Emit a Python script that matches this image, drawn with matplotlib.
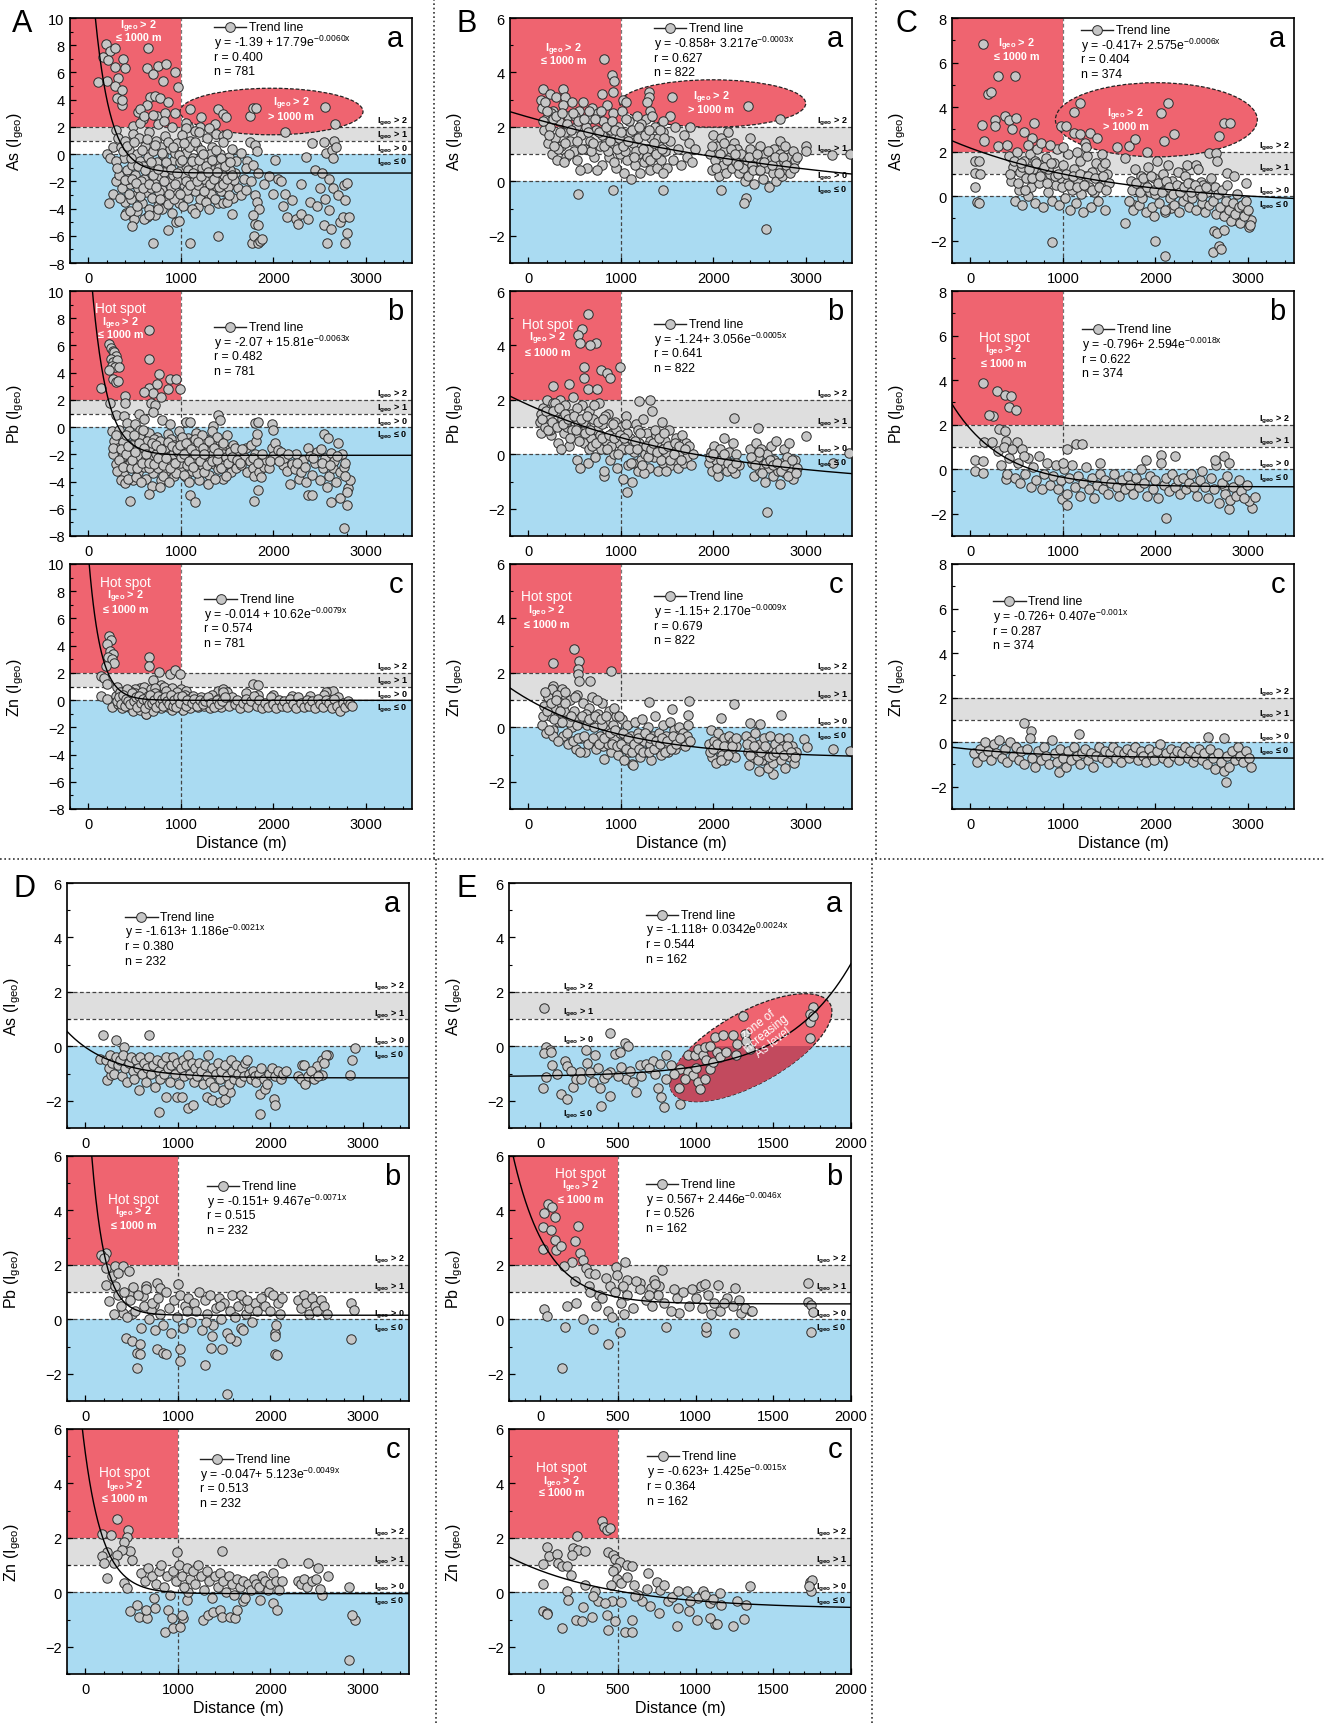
import numpy as np
import matplotlib.pyplot as plt
from matplotlib.patches import Ellipse, Rectangle
from matplotlib.lines import Line2D
from matplotlib.ticker import MultipleLocator
import matplotlib.transforms as mtransforms

plt.rcParams['font.family'] = ['Liberation Sans', 'DejaVu Sans']
plt.rcParams['mathtext.fontset'] = 'custom'
plt.rcParams['mathtext.rm'] = 'Liberation Sans'
plt.rcParams['mathtext.it'] = 'Liberation Sans:italic'
plt.rcParams['mathtext.bf'] = 'Liberation Sans:bold'

# ---------------- points: (distance m, Igeo) ----------------
A_As = [(189,8.1),(232,7.6),(286,7.8),(160,7.1),(214,6.9),(286,6.4),(376,7.0),(394,6.3),(322,5.6),(106,5.3),
        (196,5.4),(286,5.0),(358,4.7),(304,4.1),(358,3.6),(358,4.0),(646,7.8),(628,6.3),(700,5.9),(754,6.5),
        (844,6.6),(934,6.0),(970,4.9),(808,5.4),(664,4.2),(718,4.3),(772,4.1),(862,3.8),(934,3.0),(628,3.6),
        (538,3.1),(592,2.6),(736,2.8),(826,3.0),(484,2.1),(556,3.3),
        (1096,3.3),(1222,2.7),(1402,3.3),(1456,2.95),(1492,2.7),(1366,2.2),(1744,2.8),(1780,3.4),(1816,3.4),
        (2122,1.6),(2554,3.45),(2662,2.2),(1204,2.0),(1078,2.1),
        (560,2.3),(600,2.8),(700,2.9),(750,2.2),(820,2.4),(900,2.0),(1050,2.3),(1150,1.7),(1200,1.6),(1300,1.9),
        (1380,1.5),(1450,1.3),(1500,1.5),(1050,1.9),
        (300,1.8),(260,0.5),(200,0.0),(230,-0.3),(270,-2.9),(220,-3.6),(300,-2.0),
        (320,1.2),(350,0.5),(380,-0.3),(400,1.0),(420,-1.2),(440,0.3),(450,-2.2),(470,-0.8),(480,1.5),(500,-1.5),
        (510,-3.0),(520,0.0),(540,-2.5),(550,1.2),(560,-0.5),(580,-3.6),(600,-1.8),(610,0.6),(620,-2.8),(640,-0.2),
        (650,1.6),(660,-4.0),(670,-1.2),(690,-3.2),(700,0.2),(710,-2.0),(730,1.0),(740,-0.6),(750,-3.8),(770,-1.6),
        (780,0.5),(800,-2.6),(810,-0.1),(830,1.3),(840,-3.4),(850,-1.0),(870,-2.0),(880,0.4),(900,-4.3),(910,-1.5),
        (930,-0.4),(950,-2.8),(960,0.8),(980,-3.6),(1000,-1.2),(1010,1.4),(1030,-2.3),(1050,0.1),(1060,-0.9),(1080,-3.2),
        (1100,1.0),(1110,-1.8),(1130,-0.3),(1150,-2.7),(1170,0.6),(1190,-3.9),(1200,-1.3),(1220,0.3),(1240,-2.2),(1260,-0.6),
        (1280,1.2),(1300,-3.0),(1320,-1.6),(1340,0.5),(1360,-2.4),(1380,-0.8),(1400,-3.6),(1420,0.0),(1440,-1.9),(1460,0.9),
        (1480,-2.8),(1500,-1.0),(1520,-0.2),(1540,-2.2),(1560,-3.2),(1580,-1.4),(1600,-0.5),(1620,-2.5),(1650,-3.0),(1680,-1.8),
        (1700,-2.6),(1720,-0.5),
        (300,-0.5),(330,-1.5),(360,-2.5),(390,-3.5),(410,-4.3),(430,-1.8),(460,-3.3),(490,-4.8),(530,-4.2),(570,-2.0),
        (590,-0.9),(630,-4.6),(680,-2.5),(720,-4.5),(760,-2.8),(790,-4.0),(820,-1.3),(860,-3.7),(890,-2.4),(920,-3.3),
        (940,0.1),(970,-1.9),(990,-0.6),(1020,-3.8),(1040,-1.6),(1070,-2.6),(1090,0.5),(1120,-4.0),(1140,-2.0),(1160,-1.0),
        (1180,-2.3),(1210,-3.3),(1230,-1.0),(1250,-1.8),(1270,-3.5),(1290,-2.6),(1310,0.0),(1330,-2.9),(1350,-1.2),(1370,-3.3),
        (1390,-2.0),(1410,-1.0),(1430,-2.7),(1450,-3.6),(1470,-1.5),(1490,-0.6),(1510,-2.4),(1530,-1.2),(1550,0.4),(1570,-1.9),
        (470,-5.3),(400,-4.5),(450,-4.2),(520,-3.8),(600,-4.8),(650,-4.5),(700,-6.5),(750,-4.0),(860,-5.6),(950,-5.0),
        (980,-4.9),(1100,-6.5),(1150,-4.3),(1400,-6.0),(1300,-4.0),(1500,-3.5),(1550,-4.4),
        (1650,0.1),(1700,-1.0),(1750,0.9),(1780,-0.8),(1800,0.7),(1820,0.2),(1830,-1.4),(1760,-2.0),(1800,-3.0),(1820,-3.5),
        (1850,-4.0),(1780,-4.5),(1800,-5.1),(1830,-5.2),(1770,-6.5),(1790,-6.0),(1830,-6.5),(1860,-6.4),(1880,-6.2),(1900,-2.2),
        (1950,-1.6),(2000,-2.9),(2020,-0.4),(2050,-1.8),(2080,-2.0),(2100,-3.8),(2130,-2.9),(2150,-4.6),(2200,-3.4),(2250,-4.8),
        (2270,-5.1),(2300,-4.4),(2300,-2.2),(2350,-0.2),(2400,-3.5),(2380,-4.8),(2420,0.8),(2450,-1.2),(2470,-3.8),(2500,-2.5),
        (2530,-1.4),(2550,-5.2),(2560,-3.3),(2570,0.1),(2580,-6.5),(2600,-4.1),(2600,-1.8),(2620,-5.5),(2650,-2.5),(2630,0.3),
        (2660,1.0),(2680,0.5),(2700,-3.0),(2720,-5.0),(2750,-4.6),(2760,-2.3),(2780,-3.4),(2800,-2.1),(2800,-5.8),(2780,-6.5),
        (2820,-4.6),(2550,0.9),(2640,-0.3)]
A_As_core = [(310,-1.0),(345,-3.2),(375,0.2),(395,-1.9),(415,0.6),(435,-2.9),(455,-0.3),(475,-1.8),(495,0.9),(515,-2.1),
        (535,-0.9),(555,-3.1),(575,0.3),(595,-2.5),(615,-1.2),(635,1.1),(655,-2.2),(675,-0.6),(695,-1.5),(715,0.7),
        (735,-2.4),(755,-1.1),(775,-3.3),(795,0.1),(815,-2.0),(835,-0.6),(855,0.9),(875,-2.9),(895,-1.1),(915,0.5),
        (935,-2.2),(955,-1.4),(975,-0.1),(995,-2.9),(1015,-0.4),(1035,0.8),(1055,-2.0),(1075,-1.2),(1095,-2.3),(1115,-0.5),
        (1135,-1.4),(1155,0.9),(1175,-2.0),(1195,-0.4),(1215,-1.6),(1235,0.0),(1255,-2.7),(1275,-0.9),(1295,-1.3),(1315,-2.2),
        (1335,-0.4),(1355,-1.8),(1375,0.3),(1395,-1.3),(1415,-2.4),(1435,-0.3),(1455,-2.2),(1475,-0.9),(1495,-1.8),(1515,-3.0),
        (1535,-0.6),(1555,-1.5)]

A_Pb = [(220,6.1),(240,5.8),(260,5.6),(280,5.5),(300,5.2),(240,5.0),(270,4.8),(310,4.9),(250,4.5),(290,4.4),
        (330,4.4),(220,4.2),(260,3.5),(300,3.3),(140,2.9),(320,3.4),(650,7.1),(650,5.0),(760,3.9),(880,3.5),
        (950,3.5),(990,2.8),(860,2.8),(650,2.9),(700,2.5),(780,2.2),(740,3.2),(600,2.6),(680,1.8),(720,1.6),
        (400,2.3),(390,1.8),(230,1.8),(300,0.9),(380,0.8),(550,1.0),(600,0.6),(420,0.3),(500,0.2),(560,-0.2),
        (800,0.5),(880,0.2),(700,1.1),(1050,0.4),(1100,0.4),(1400,0.9),(1420,0.5),(1350,0.1),(1800,0.3),(1830,0.4),
        (1980,0.2),(2000,-0.2),
        (250,-0.3),(280,-1.0),(300,-2.7),(320,-1.5),(340,-0.5),(360,-2.2),(380,-3.5),(400,-1.2),(420,-2.8),(440,-0.3),
        (460,-1.9),(480,-3.9),(500,-1.0),(520,-2.5),(540,-3.3),(560,-0.8),(580,-1.8),(600,-2.9),(620,-3.8),(640,-1.3),
        (660,-0.4),(680,-2.3),(700,-3.4),(720,-1.6),(740,-0.7),(760,-2.6),(780,-3.9),(800,-1.2),(820,-2.0),(840,-3.2),
        (860,-0.5),(880,-1.7),(900,-2.7),(920,-3.6),(940,-1.0),(960,-2.2),(980,-0.3),(1000,-3.0),(1020,-1.5),(1040,-2.5),
        (1060,-3.7),(1080,-0.8),(1100,-2.0),(1120,-3.2),(1140,-1.3),(1160,-0.4),(1180,-2.6),(1200,-3.9),(1220,-1.8),(1240,-2.9),
        (1260,-0.9),(1280,-2.2),(1300,-3.5),(1320,-1.4),(1340,-0.3),(1360,-2.7),(1380,-1.9),(1400,-3.1),(1420,-1.1),(1440,-2.4),
        (1460,-3.8),(1480,-1.6),(1500,-0.6),(1520,-2.1),(1540,-3.3),(1560,-1.3),(1580,-2.5),(1600,-3.0),(1620,-1.9),(1650,-2.8),
        (1680,-2.2),(1700,-1.5),(1720,-3.3),
        (270,-2.0),(310,-3.2),(330,-0.2),(350,-3.9),(370,-1.1),(390,-4.1),(410,-0.6),(430,-3.8),(450,-2.6),(470,-1.3),
        (490,-0.6),(510,-3.7),(530,-1.6),(550,-2.1),(570,-4.0),(590,-0.2),(610,-2.4),(630,-1.0),(650,-3.0),(670,-1.7),
        (690,-4.3),(710,-0.9),(730,-2.0),(750,-3.0),(770,-1.0),(790,-2.3),(810,-3.6),(830,-1.5),(850,-2.5),(870,-4.0),
        (890,-0.9),(910,-2.0),(930,-1.3),(950,-3.4),(970,-1.8),(990,-2.6),(1010,-0.7),(1030,-3.5),(1050,-1.9),(1070,-2.8),
        (1090,-4.0),(1110,-1.1),(1130,-2.3),(1150,-0.9),(1170,-3.4),(1190,-1.5),(1210,-2.3),(1230,-0.6),(1250,-3.3),(1270,-1.6),
        (1290,-4.2),(1310,-2.5),(1330,-1.2),(1350,-2.0),(1370,-3.8),(1390,-0.7),(1410,-2.6),(1430,-1.5),(1450,-2.0),(1470,-2.8),
        (1490,-3.6),
        (450,-5.4),(650,-4.9),(770,-4.4),(1100,-5.0),(1150,-5.5),(1790,-5.4),(1830,-4.6),(2380,-5.0),(2420,-5.0),(2620,-5.5),
        (2720,-5.2),(2760,-7.4),(2800,-5.7),(2810,-4.5),(2830,-3.9),
        (1750,-2.5),(1760,-1.3),(1780,-3.0),(1790,-3.6),(1800,-2.0),(1810,-1.0),(1820,-0.5),(1850,-3.3),(1870,-3.7),(1900,-2.9),
        (1920,-2.4),(1950,-3.0),(1980,-1.5),(2000,-2.1),(2020,-1.2),(2050,-1.7),(2080,-1.8),(2100,-2.8),(2120,-2.3),(2150,-3.2),
        (2180,-4.2),(2200,-2.7),(2230,-3.1),(2250,-2.0),(2280,-3.8),(2300,-3.3),(2320,-2.4),(2350,-4.0),(2380,-1.5),(2400,-2.1),
        (2420,-3.5),(2450,-2.6),(2470,-1.8),(2500,-3.9),(2520,-1.6),(2540,-3.0),(2550,-0.5),(2560,-2.3),(2580,-4.4),(2590,-0.8),
        (2600,-3.6),(2620,-1.9),(2640,-3.0),(2660,-2.5),(2680,-4.0),(2700,-1.2),(2720,-3.3),(2740,-2.0),(2760,-2.9),(2780,-3.6),
        (2800,-4.8)]
A_Pb_core = [(265,-1.5),(295,-0.6),(325,-2.4),(355,-1.6),(375,-2.9),(405,-2.0),(425,-1.4),(455,-3.0),(475,-2.4),(505,-1.8),
        (525,-3.0),(545,-1.2),(575,-2.6),(605,-1.5),(625,-2.0),(655,-2.6),(685,-1.2),(705,-2.7),(735,-1.3),(755,-2.3),
        (785,-1.6),(805,-2.8),(835,-2.3),(855,-1.1),(885,-3.0),(905,-1.4),(935,-2.6),(955,-1.6),(985,-1.3),(1005,-2.2),
        (1035,-2.0),(1055,-1.2),(1085,-2.5),(1105,-1.6),(1135,-2.9),(1155,-2.0),(1185,-1.1),(1205,-2.5),(1235,-1.5),(1255,-2.0),
        (1285,-2.8),(1305,-1.0),(1335,-2.5),(1355,-1.5),(1385,-2.4),(1405,-1.9),(1435,-3.0),(1455,-1.2),(1485,-2.2),(1505,-2.6),
        (1535,-1.8),(1555,-2.2),(1585,-1.5),(1605,-2.4),(1635,-2.6),(1665,-1.6),(1785,-2.3),(1830,-2.6),(1880,-2.0),(1960,-2.5),
        (2060,-2.5),(2160,-2.0),(2260,-2.6),(2340,-2.9),(2430,-2.3),(2530,-2.6),(2610,-2.8),(2690,-2.1),(2770,-2.6)]

A_Zn = [(220,4.7),(240,4.4),(200,4.1),(230,3.6),(260,3.4),(210,3.2),(250,3.0),(280,2.7),(190,2.5),(650,3.2),
        (650,2.5),(130,1.8),(170,1.6),(200,1.2),(310,1.0),(760,2.1),(880,1.9),(940,2.2),(990,1.9),(700,1.5),
        (780,1.1),(820,1.0),(1780,1.2),(1830,1.1),(1830,0.4),(2650,0.7),(2570,0.6),(130,0.3),(200,0.1),(250,-0.5),
        (620,-1.0),(560,0.9),(600,1.0),(500,0.8),(450,0.7),(380,0.5),(680,0.8),(720,0.9),(860,0.6),(900,0.9),
        (1000,0.8),(1050,0.7),(1400,0.7),(1450,0.8),(1500,0.6),(1700,0.5),(2000,0.4),(2200,0.3),(2400,0.3),(2550,0.4),
        (2700,0.2),
        (300,0.3),(320,-0.3),(340,0.6),(360,-0.6),(380,0.1),(400,-0.2),(420,0.8),(440,-0.5),(460,0.2),(480,-0.8),
        (500,0.5),(520,-0.3),(540,0.0),(560,-0.7),(580,0.6),(600,-0.2),(620,-1.0),(640,0.3),(660,-0.5),(680,0.1),
        (700,-0.8),(720,0.5),(740,-0.3),(760,0.0),(780,-0.6),(800,0.4),(820,-0.2),(840,0.7),(860,-0.5),(880,0.1),
        (900,-0.7),(920,0.3),(940,-0.2),(960,0.6),(980,-0.5),(1000,0.0),(1020,-0.7),(1040,0.4),(1060,-0.3),(1080,0.1),
        (1100,-0.6),(1130,0.3),(1160,-0.2),(1190,-0.5),(1220,0.2),(1250,-0.4),(1280,0.0),(1310,-0.6),(1340,0.4),(1370,-0.2),
        (1400,0.1),(1430,-0.5),(1460,0.6),(1490,-0.1),(1520,-0.4),(1550,0.2),(1580,-0.3),(1610,0.0),(1640,-0.6),(1670,-0.2),
        (1700,0.1),(1730,-0.5),(1760,-0.1),(1790,0.3),(1820,-0.4),(1850,0.0),(1880,-0.6),(1910,-0.2),(1940,-0.5),(1970,0.2),
        (2000,-0.3),(2030,-0.6),(2060,0.0),(2090,-0.4),(2120,-0.1),(2150,-0.5),(2180,0.1),(2210,-0.3),(2240,-0.6),(2270,0.2),
        (2300,-0.2),(2330,-0.5),(2360,0.0),(2390,-0.4),(2420,-0.1),(2450,-0.6),(2480,0.1),(2510,-0.3),(2540,-0.5),(2570,0.0),
        (2600,-0.2),(2630,-0.6),(2660,0.1),(2690,-0.4),(2720,-0.8),(2750,-0.2),(2780,-0.5),(2810,-0.1),(2830,-0.3),(2850,-0.4)]
A_Zn_core = [(310,-0.1),(330,0.2),(350,-0.3),(370,0.4),(390,-0.4),(410,0.1),(430,-0.1),(450,-0.3),(470,0.5),(490,-0.1),
        (510,0.2),(530,-0.5),(550,0.3),(570,-0.2),(590,0.1),(610,-0.6),(630,0.0),(650,-0.3),(670,0.4),(690,-0.2),
        (710,0.0),(730,-0.5),(750,0.3),(770,-0.2),(790,0.1),(810,-0.4),(830,0.2),(850,-0.1),(870,-0.3),(890,0.4),
        (910,-0.4),(930,0.0),(950,-0.5),(970,0.2),(990,-0.2),(1010,0.3),(1050,-0.4),(1070,0.0),(1115,-0.2),(1145,0.1),
        (1175,-0.4),(1205,0.0),(1235,-0.3),(1265,-0.1),(1295,0.2),(1325,-0.2),(1355,-0.5),(1385,0.0),(1415,-0.3),(1445,-0.1),
        (1475,0.2)]

B_As = [(820,4.5),(900,3.9),(930,3.7),(910,3.3),(370,3.4),(160,3.4),(230,3.2),(300,3.1),(400,3.1),(140,3.0),
        (800,3.2),(1020,3.0),(1050,2.9),(1300,3.3),(1300,3.1),(1280,2.9),(1320,2.6),(1550,3.1),(2380,2.75),(2720,2.3),
        (1530,2.4),(1450,2.2),(1750,2.0),(540,-0.45),(910,-0.3),(1460,-0.3),(2080,-0.3),(2350,-0.6),(2330,-0.8),(2570,-1.75),
        (3000,1.3),(3000,1.1),(3280,0.95),(3480,1.0),(2400,1.6),(2720,1.5),
        (150,2.7),(170,1.9),(190,2.3),(210,1.4),(230,2.0),(250,1.0),(270,2.6),(290,1.6),(310,0.8),(330,2.2),
        (350,1.3),(370,2.8),(390,1.8),(410,0.9),(430,2.4),(450,1.5),(470,2.9),(490,1.1),(510,2.0),(530,0.8),
        (550,2.6),(570,1.7),(590,2.9),(610,1.2),(630,0.5),(650,2.3),(670,1.5),(690,2.7),(710,0.9),(730,1.9),
        (750,2.5),(770,1.3),(790,0.6),(810,2.2),(830,1.6),(850,2.8),(870,0.9),(890,1.9),(910,2.5),(930,1.3),
        (950,0.5),(970,2.0),(990,1.0),(1010,2.6),(1030,0.3),(1050,1.7),(1070,0.8),(1090,2.2),(1110,0.1),(1130,1.4),
        (1150,0.6),(1170,2.4),(1190,1.0),(1210,0.3),(1230,1.8),(1250,0.7),(1270,2.3),(1290,1.2),(1310,0.4),(1330,1.6),
        (1350,0.9),(1370,2.0),(1390,0.5),(1410,1.3),(1430,0.8),(1450,1.8),(1480,1.1),(1500,0.5),(1530,1.5),(1560,0.8),
        (1590,2.0),(1620,1.2),(1650,0.6),(1680,1.7),(1710,0.9),(1740,1.4),(1770,0.7),(1800,1.2),(1960,1.0),(1980,0.4),
        (2000,1.7),(2020,0.8),(2040,1.3),(2060,0.2),(2080,1.6),(2100,0.6),(2120,1.1),(2140,0.3),(2160,1.8),(2180,0.9),
        (2200,0.5),(2220,1.4),(2240,0.7),(2260,1.2),(2280,0.3),(2300,1.0),(2320,0.5),(2340,0.0),(2360,0.8),(2380,0.2),
        (2400,1.2),(2420,0.6),(2440,-0.1),(2460,0.9),(2480,0.4),(2500,1.3),(2520,0.7),(2540,0.1),(2560,1.0),(2580,0.5),
        (2600,-0.2),(2620,0.8),(2640,0.3),(2660,1.2),(2680,0.0),(2700,0.6),(2720,1.0),(2740,0.2),(2760,0.7),(2780,1.3),
        (2800,0.4),(2820,0.9),(2840,0.6),(2860,1.1),(2880,0.8),(2900,0.9),
        (180,2.9),(240,2.5),(320,1.2),(380,0.7),(440,1.0),(500,2.4),(560,0.4),(620,2.0),(680,1.1),(740,0.4),
        (800,1.7),(860,1.1),(920,0.7),(980,1.6),(1040,1.1),(1100,1.8),(1160,1.1),(1220,2.1),(1280,0.9),(1340,2.4),
        (1400,1.6),(1460,0.3)]
B_As_core = [(160,2.2),(200,2.6),(220,1.7),(260,2.3),(280,1.3),(300,2.4),(340,1.8),(360,2.5),(400,1.4),(420,2.1),
        (460,1.9),(480,2.5),(520,1.5),(540,2.2),(580,1.2),(600,2.3),(640,1.8),(660,2.6),(700,1.4),(720,2.3),
        (760,1.8),(780,2.6),(820,1.3),(840,2.0),(880,1.5),(900,2.2),(940,1.9),(960,1.2),(1000,1.8),(1020,1.3),
        (1060,2.3),(1080,1.5),(1120,1.9),(1140,0.9),(1180,1.6),(1200,2.0),(1240,1.2),(1260,1.7),(1300,1.9),(1320,0.8),
        (1360,1.4),(1380,1.0),(1420,1.9),(1440,1.2),(1470,1.6),(1990,1.3),(2030,0.5),(2070,1.0),(2110,1.4),(2150,0.8),
        (2190,1.2),(2230,1.0),(2270,0.6),(2390,0.9),(2430,0.4),(2470,1.0),(2510,0.4),(2550,0.7),(2590,1.1),(2630,0.6),
        (2670,0.9),(2710,0.3),(2750,0.9),(2790,0.6),(2830,0.3),(2870,0.5)]

B_Pb = [(648,5.16),(575,4.6),(532,4.4),(556,4.1),(727,4.1),(666,4.0),(990,3.2),(605,3.2),(788,3.1),(849,3.0),
        (605,2.8),(880,2.8),(270,2.5),(440,2.6),(648,2.4),(745,2.4),(1200,1.95),(1320,2.0),(2220,1.35),(2484,0.95),
        (3002,0.66),(3290,-0.3),(3470,0.05),(2575,-2.1),(1063,-1.4),(819,-0.8),
        (120,1.2),(140,0.8),(160,1.7),(180,1.0),(200,2.0),(220,1.4),(240,0.7),(260,1.9),(280,1.1),(300,1.6),
        (320,0.4),(340,2.0),(360,1.3),(380,0.8),(400,1.8),(420,1.0),(440,0.3),(460,1.5),(480,2.1),(500,0.7),
        (520,-0.2),(540,1.2),(560,-0.5),(580,1.8),(600,0.4),(620,1.0),(640,-0.3),(660,1.6),(680,0.6),(700,1.3),
        (720,-0.1),(740,0.9),(760,1.9),(780,0.2),(800,1.1),(820,-0.6),(840,0.5),(860,1.5),(880,-0.2),(900,0.8),
        (920,0.0),(940,1.2),(960,-0.5),(980,0.4),(1000,1.0),(1020,-0.9),(1040,0.3),(1060,1.4),(1080,-0.4),(1100,0.6),
        (1120,-1.0),(1140,0.1),(1160,1.1),(1180,-0.6),(1200,0.4),(1220,-0.2),(1240,1.3),(1260,0.0),(1280,0.8),(1300,-0.5),
        (1320,0.5),(1340,1.6),(1360,-0.1),(1380,0.7),(1400,-0.6),(1420,0.3),(1440,1.2),(1460,-0.3),(1480,0.5),(1500,0.0),
        (1520,0.9),(1540,-0.4),(1560,0.3),(1580,-0.2),(1600,0.6),(1620,-0.5),(1640,0.1),(1660,0.7),(1680,-0.3),(1700,0.4),
        (1720,-0.1),(1740,0.3),(1760,-0.4),(1780,0.0),(1950,-0.3),(1970,0.1),(1990,-0.6),(2010,0.3),(2030,-0.2),(2050,-0.8),
        (2070,0.2),(2090,-0.4),(2110,0.6),(2130,-0.1),(2150,-0.6),(2170,0.1),(2190,-0.3),(2210,0.4),(2230,-0.7),(2250,0.0),
        (2280,-0.4),(2400,0.2),(2420,-0.3),(2440,-0.8),(2460,0.4),(2480,-0.1),(2500,-0.6),(2520,0.2),(2540,-0.4),(2560,-1.0),
        (2580,0.0),(2600,-0.5),(2620,0.3),(2640,-0.8),(2660,-0.2),(2680,0.5),(2700,-0.6),(2720,-1.1),(2740,-0.3),(2760,0.2),
        (2780,-0.7),(2800,-0.1),(2820,0.4),(2840,-0.5),(2860,-0.9),(2880,-0.2),(2900,-0.5),
        (130,1.5),(230,0.9),(290,1.9),(350,0.2),(410,1.2),(470,0.9),(530,1.7),(590,1.2),(650,0.2),(710,1.8),
        (770,0.7),(830,1.4),(890,0.3),(950,0.9),(1010,0.2),(1070,0.8),(1130,-0.3),(1190,0.9),(1250,-0.7),(1310,0.1),
        (1370,0.9),(1430,-0.2),(1490,-0.6)]
B_Pb_core = [(150,1.3),(190,1.6),(210,0.9),(250,1.2),(270,1.6),(310,1.0),(330,1.7),(370,1.1),(390,1.5),(430,1.3),
        (450,0.6),(490,1.4),(510,0.9),(550,0.5),(570,1.3),(610,0.8),(630,1.4),(670,0.9),(690,0.3),(730,0.4),
        (750,1.2),(790,0.6),(810,1.3),(850,0.2),(870,0.7),(910,1.1),(930,0.6),(970,0.0),(990,0.7),(1030,0.6),
        (1050,1.1),(1090,0.2),(1110,-0.3),(1150,0.5),(1170,0.2),(1210,0.8),(1230,-0.4),(1270,0.3),(1290,-0.1),(1330,0.2),
        (1350,0.4),(1390,0.1),(1410,0.6),(1450,0.2),(1470,0.8),(1510,0.3),(1530,-0.2),(1570,0.0),(1590,0.4),(1630,0.3),
        (1650,-0.2),(1690,0.2),(1960,-0.1),(2000,0.0),(2040,-0.5),(2080,-0.2),(2120,0.0),(2160,-0.3),(2200,-0.5),(2240,-0.3),
        (2410,-0.1),(2450,-0.4),(2490,0.1),(2530,-0.7),(2570,-0.3),(2610,-0.2),(2650,-0.4),(2690,-0.3),(2730,-0.6),(2770,-0.4),
        (2810,-0.8),(2850,-0.2),(2890,-0.7)]

B_Zn = [(495,2.86),(270,2.37),(544,2.43),(532,2.13),(892,2.07),(532,1.95),(544,1.7),(666,1.7),(270,1.52),(361,1.4),
        (209,1.15),(1734,0.97),(1307,0.93),(2222,0.85),(1551,0.66),(1722,0.44),(2088,0.35),(2728,0.44),(2393,0.17),(2500,0.12),
        (2984,-0.44),(3015,-0.74),(3290,-0.8),(3473,-0.86),(2649,-1.72),(1124,-1.35),(819,-1.17),
        (150,0.1),(170,0.8),(190,-0.2),(210,1.1),(230,0.4),(250,1.4),(270,-0.1),(290,0.7),(310,1.2),(330,0.2),
        (350,0.9),(370,-0.3),(390,1.3),(410,0.5),(430,-0.6),(450,1.0),(470,0.0),(490,0.6),(510,-0.8),(530,1.2),
        (550,0.3),(570,-0.4),(590,0.9),(610,-0.9),(630,0.1),(650,0.7),(670,-0.5),(690,1.1),(710,0.0),(730,-0.8),
        (750,0.5),(770,-0.3),(790,0.9),(810,-0.7),(830,0.2),(850,-0.1),(870,0.6),(890,-0.9),(910,0.1),(930,-0.4),
        (950,0.4),(970,-1.0),(990,-0.2),(1010,0.3),(1030,-1.2),(1050,-0.5),(1070,0.1),(1090,-0.9),(1110,-0.3),(1130,-1.4),
        (1150,0.2),(1170,-0.7),(1190,-0.2),(1210,-1.1),(1230,0.3),(1250,-0.5),(1270,-0.9),(1290,0.0),(1310,-0.6),(1330,-1.2),
        (1350,-0.3),(1370,0.4),(1390,-0.8),(1410,-0.2),(1430,-1.0),(1450,0.1),(1470,-0.6),(1490,-0.3),(1510,-0.9),(1530,0.2),
        (1550,-0.5),(1570,-0.1),(1590,-0.8),(1610,-0.3),(1630,0.0),(1650,-0.6),(1670,-0.2),(1690,-0.7),(1710,-0.3),(1730,0.1),
        (1750,-0.5),(1950,-0.6),(1970,-0.1),(1990,-1.1),(2010,-0.5),(2030,-1.3),(2050,-0.2),(2070,-0.8),(2090,-1.0),(2110,-0.4),
        (2130,-1.2),(2150,-0.7),(2170,-0.3),(2190,-0.9),(2210,-0.5),(2230,-1.1),(2250,-0.7),(2350,-0.3),(2370,-0.9),(2390,-1.4),
        (2410,-0.5),(2430,-1.1),(2450,-0.2),(2470,-0.8),(2490,-1.6),(2510,-0.6),(2530,-1.2),(2550,-0.4),(2570,-1.0),(2590,-1.5),
        (2610,-0.3),(2630,-0.8),(2650,-1.3),(2670,-0.6),(2690,-1.0),(2710,-0.4),(2730,-1.2),(2750,-0.7),(2770,-1.5),(2790,-0.9),
        (2810,-0.4),(2830,-1.1),(2850,-0.7),(2870,-1.3),(2890,-0.9),
        (180,1.3),(260,-0.3),(320,-0.5),(380,0.6),(440,0.2),(500,1.1),(560,-0.9),(620,0.5),(680,0.3),(740,1.0),
        (800,0.1),(860,-0.6),(920,0.7),(980,0.4)]
B_Zn_core = [(160,0.4),(200,0.6),(220,-0.1),(240,0.9),(280,0.3),(300,1.0),(340,0.6),(360,0.2),(400,0.9),(420,-0.2),
        (460,0.4),(480,-0.5),(520,0.1),(540,-0.4),(580,0.4),(600,-0.3),(640,-0.6),(660,0.3),(700,-0.4),(720,0.4),
        (760,-0.6),(780,0.3),(820,-0.4),(840,0.4),(880,-0.2),(900,-0.6),(940,-0.1),(960,-0.7),(1000,-0.6),(1020,-0.2),
        (1060,-0.8),(1080,-0.4),(1120,-0.9),(1140,-0.6),(1180,-0.4),(1200,-0.8),(1240,-0.9),(1260,-0.2),(1300,-0.9),(1320,-0.4),
        (1360,-0.8),(1380,-0.5),(1420,-0.6),(1440,-0.4),(1480,-0.9),(1500,-0.5),(1540,-0.8),(1560,-0.3),(1600,-0.6),(1640,-0.4),
        (1960,-0.9),(2000,-0.8),(2040,-0.6),(2080,-1.2),(2120,-0.7),(2160,-1.0),(2200,-0.7),(2240,-0.4),(2360,-0.6),(2400,-1.0),
        (2440,-0.7),(2480,-1.2),(2520,-0.9),(2560,-0.7),(2600,-1.1),(2640,-1.0),(2680,-0.9),(2720,-0.8),(2760,-1.0),(2800,-0.7),
        (2840,-0.9),(2880,-1.1)]

C_As = [(136,6.83),(295,5.4),(486,5.4),(186,4.6),(222,4.7),(125,3.2),(266,3.4),(378,3.6),(414,3.4),(493,3.5),
        (450,3.0),(266,3.15),(583,2.9),(692,3.3),(143,2.5),(295,2.25),(390,2.3),(666,2.6),(1190,4.2),(1118,3.8),
        (975,3.15),(1029,3.15),(1118,2.85),(1190,2.8),(1298,2.85),(1370,2.6),(1244,2.4),(1580,2.2),(1677,1.7),(1713,2.25),
        (1775,2.55),(1912,2.0),(2056,3.75),(2140,4.2),(2200,2.78),(2092,2.5),(2742,3.3),(2807,3.3),(2688,2.7),(45,1.6),
        (89,1.6),(53,1.05),(107,1.0),(45,0.4),(71,-0.25),(96,-0.3),(883,-2.05),(1670,-1.2),(1995,-2.0),(2103,-2.7),
        (2627,-2.5),(2688,-2.25),(2706,-2.35),(2634,-1.55),(2670,-1.65),(2742,-1.5),(2850,-1.05),(3030,-1.05),(3012,-1.4),(2976,-0.7),
        (2976,0.6),(2778,1.05),(2850,0.9),(2580,1.95),(2652,1.95),(2663,1.6),(2345,1.4),(2435,1.4),(2291,1.05),(2490,0.65),
        (2170,-0.55),(1990,-0.9),(2103,-0.7),(1767,-0.4),
        (420,1.8),(440,0.7),(460,1.3),(480,-0.2),(500,2.0),(520,0.3),(540,1.1),(560,-0.4),(580,1.6),(600,0.8),
        (620,0.0),(640,1.9),(660,0.4),(680,1.2),(700,-0.3),(720,2.1),(740,0.6),(760,1.4),(780,-0.5),(800,0.9),
        (820,1.7),(840,0.2),(860,1.0),(880,-0.2),(900,1.5),(920,0.5),(940,2.1),(960,-0.4),(980,0.8),(1000,1.4),
        (1020,-0.1),(1040,0.6),(1060,1.9),(1080,-0.6),(1100,0.3),(1120,1.2),(1140,-0.3),(1160,0.7),(1180,1.6),(1200,0.1),
        (1220,-0.7),(1240,0.9),(1260,1.8),(1280,0.4),(1300,-0.5),(1320,1.1),(1340,0.2),(1360,1.5),(1380,-0.2),(1400,0.8),
        (1420,1.3),(1440,0.5),(1460,-0.6),(1480,1.0),(1500,0.6),(1720,-0.2),(1740,0.7),(1760,-0.6),(1780,1.2),(1800,0.3),
        (1820,-0.4),(1840,0.9),(1860,-0.1),(1880,0.6),(1900,-0.7),(1920,1.3),(1940,0.2),(1960,-0.5),(1980,0.8),(2000,0.1),
        (2020,1.6),(2040,-0.3),(2060,0.5),(2080,1.0),(2100,-0.6),(2120,0.3),(2140,1.4),(2160,-0.1),(2180,0.7),(2200,-0.4),
        (2220,0.2),(2240,1.1),(2260,-0.7),(2280,0.4),(2300,-0.2),(2320,0.9),(2340,0.0),(2360,-0.5),(2380,0.6),(2400,-0.1),
        (2420,0.3),(2440,-0.6),(2460,1.2),(2480,0.1),(2500,-0.3),(2520,0.5),(2540,-0.7),(2560,0.2),(2580,-0.4),(2600,0.8),
        (2620,-0.2),(2640,0.4),(2660,-0.8),(2680,0.1),(2700,-0.5),(2720,0.3),(2740,-0.9),(2760,-0.2),(2780,0.5),(2800,-0.6),
        (2820,-1.1),(2840,-0.3),(2860,-0.8),(2880,0.1),(2900,-0.5),(2920,-1.2),(2940,-0.4),(2960,-0.9),(2980,-0.2),(3000,-0.6),
        (3020,-1.3),(560,1.3),(620,2.3),(700,1.6),(760,2.4),(840,1.2),(860,2.3),(1000,2.2),(1150,2.0),(1250,2.2),
        (1420,1.9),(1450,1.5)]
C_As_core = [(430,1.0),(470,1.6),(510,0.6),(550,1.5),(590,0.3),(630,1.2),(670,0.8),(710,1.5),(750,0.9),(790,1.3),
        (830,0.6),(870,1.5),(910,0.9),(950,1.0),(990,0.4),(1030,1.0),(1070,0.5),(1110,0.9),(1150,0.4),(1190,1.0),
        (1230,0.5),(1270,0.9),(1310,0.3),(1350,0.8),(1390,0.4),(1430,0.9),(1470,0.3),(1750,0.3),(1790,0.6),(1830,0.2),
        (1870,0.8),(1910,0.4),(1950,0.9),(1990,0.3),(2030,0.6),(2070,0.2),(2110,0.7),(2150,0.4),(2190,0.1),(2230,0.5),
        (2270,0.2),(2310,0.4),(2350,0.6),(2390,0.2),(2430,0.5),(2470,0.3),(2510,0.0),(2550,0.4)]

C_Pb = [(137,3.85),(290,3.5),(369,3.35),(443,3.27),(412,2.8),(491,2.65),(247,2.4),(198,2.45),(308,1.8),(369,1.7),
        (149,1.2),(228,1.2),(381,1.25),(504,1.2),(1042,0.9),(1146,1.15),(1207,1.15),(45,0.43),(137,0.35),(45,-0.1),
        (137,-0.15),(381,-0.43),(994,-1.35),(1042,-1.6),(2113,-2.2),(2064,0.65),(2217,0.6),(2738,0.6),(2738,-0.75),(2799,-1.8),
        (3044,-1.73),(3013,-1.45),(3074,-1.25),
        (300,0.8),(330,0.2),(360,1.0),(390,-0.2),(420,0.5),(450,0.9),(480,-0.4),(510,0.3),(540,-0.6),(560,0.9),
        (590,-0.2),(620,0.5),(650,-0.8),(680,0.1),(710,-0.5),(740,0.6),(770,-0.9),(800,-0.2),(830,0.3),(860,-0.7),
        (890,-0.3),(920,0.2),(950,-0.9),(980,-0.5),(1010,0.0),(1040,-1.1),(1070,-0.4),(1100,0.2),(1130,-0.8),(1160,-0.3),
        (1190,-1.2),(1220,-0.6),(1250,0.1),(1280,-0.9),(1310,-0.4),(1340,-1.3),(1370,-0.7),(1400,-0.2),(1430,-0.9),(1460,-0.5),
        (1490,-1.1),(1520,-0.6),(1550,-0.2),(1580,-0.8),(1610,-1.2),(1640,-0.5),(1670,-0.9),(1700,-0.3),(1730,-0.7),(1760,-1.1),
        (1790,-0.4),(1820,-0.8),(1850,0.0),(1880,-0.6),(1910,-1.2),(1940,-0.3),(1970,-0.9),(2000,-0.5),(2030,-1.3),(2060,0.3),
        (2090,-0.7),(2120,-0.4),(2150,-1.0),(2180,-0.2),(2210,-0.8),(2240,-0.5),(2270,-1.1),(2300,-0.4),(2330,-0.9),(2360,-0.6),
        (2390,-0.2),(2420,-0.8),(2450,-1.2),(2480,-0.5),(2510,-0.1),(2540,-0.8),(2570,-1.3),(2600,-0.4),(2630,-0.9),(2660,0.2),
        (2690,-1.5),(2720,-0.6),(2750,-1.1),(2780,-0.3),(2810,-1.4),(2840,-0.8),(2870,-1.2),(2900,-0.5),(2930,-1.0),(2960,-1.3),
        (2990,-0.7),(1400,0.3),(1900,0.4),(2650,0.4),(2800,0.3),(1000,0.3),(580,0.6)]

C_Zn = [(583,0.85),(657,0.48),(1177,0.36),(2572,0.25),(2768,-1.8),(963,-1.35),(2738,0.2),
        (40,-0.5),(70,-0.9),(100,-0.3),(130,-0.6),(160,0.0),(190,-0.4),(220,-0.8),(250,-0.1),(280,-0.5),(310,0.1),
        (340,-0.7),(370,-0.3),(400,-0.9),(430,0.0),(460,-0.6),(490,-0.2),(520,-0.8),(550,-0.4),(580,-1.0),(610,-0.3),
        (640,0.2),(670,-0.7),(700,-1.1),(730,-0.4),(760,-0.8),(790,-0.2),(820,-0.6),(850,-1.0),(880,0.1),(910,-0.5),
        (940,-0.9),(970,-0.3),(1000,-0.7),(1030,-1.1),(1060,-0.4),(1090,-0.8),(1120,-0.2),(1150,-0.6),(1180,-1.0),(1210,-0.5),
        (1240,-0.3),(1270,-0.8),(1300,-0.5),(1330,-1.1),(1360,-0.6),(1390,-0.2),(1420,-0.7),(1450,-0.4),(1480,-0.9),(1510,-0.5),
        (1540,-0.2),(1570,-0.7),(1600,-0.4),(1630,-0.9),(1660,-0.5),(1690,-0.3),(1720,-0.7),(1750,-0.5),(1780,-0.2),(1810,-0.8),
        (1840,-0.4),(1870,-0.6),(1900,-0.9),(1930,-0.3),(1960,-0.6),(1990,-0.8),(2020,-0.4),(2050,-0.1),(2080,-0.7),(2110,-0.5),
        (2140,-0.9),(2170,-0.3),(2200,-0.6),(2230,-0.4),(2260,-0.8),(2290,-0.5),(2320,-0.2),(2350,-0.7),(2380,-0.4),(2410,-0.9),
        (2440,-0.6),(2470,-0.3),(2500,-0.8),(2530,-0.5),(2560,-1.0),(2590,-0.3),(2620,-0.7),(2650,-1.2),(2680,-0.5),(2710,-0.9),
        (2740,-1.3),(2770,-0.6),(2800,-1.1),(2830,-0.4),(2860,-0.8),(2890,-0.2),(2920,-0.6),(2950,-0.9),(2980,-0.4),(3010,-0.7),
        (3030,-1.1)]

D_As = [(185,0.4),(333,0.22),(689,0.4),(419,-0.03),(2914,-0.06),(2885,-0.5),(2860,-1.04),(160,-0.45),(232,-1.25),(275,-1.04),
        (574,-1.62),(790,-2.4),(871,-1.86),(988,-1.86),(1042,-1.86),(1114,-2.26),(1168,-2.17),(1888,-2.47),(1888,-1.74),(1942,-1.58),
        (2039,-1.92),(2050,-2.17),(1312,-1.86),(1366,-1.98),(1456,-2.04),(1510,-1.92),(1564,-1.68),(2626,-0.33),(2554,-0.5),(2500,-0.74),
        (2338,-0.7),(2446,-1.0),(2374,-1.33),(2554,-1.07),
        (220,-0.5),(250,-0.8),(270,-0.3),(290,-0.6),(310,-1.0),(330,-0.4),(350,-0.7),(370,-0.5),(390,-1.1),(410,-0.3),
        (430,-0.8),(450,-1.3),(470,-0.6),(490,-0.4),(510,-0.9),(530,-1.2),(550,-0.5),(570,-0.8),(590,-0.4),(610,-1.0),
        (630,-0.6),(650,-1.3),(670,-0.8),(690,-0.4),(710,-1.0),(730,-0.7),(750,-1.5),(770,-0.5),(790,-0.9),(810,-1.2),
        (830,-0.6),(850,-1.0),(870,-0.4),(890,-0.8),(910,-1.3),(930,-0.7),(950,-0.4),(970,-1.0),(990,-0.6),(1010,-1.4),
        (1030,-0.8),(1050,-0.5),(1070,-1.1),(1090,-0.7),(1110,-0.3),(1130,-1.0),(1150,-0.6),(1170,-1.3),(1190,-0.8),(1210,-1.1),
        (1230,-0.6),(1250,-0.9),(1270,-1.4),(1290,-0.7),(1310,-1.1),(1330,-0.3),(1350,-1.3),(1370,-0.8),(1390,-1.5),(1410,-1.0),
        (1430,-0.6),(1450,-1.2),(1470,-0.9),(1490,-1.6),(1510,-0.7),(1530,-1.1),(1550,-1.4),(1570,-0.5),(1590,-0.9),(1610,-1.2),
        (1630,-0.7),(1650,-1.0),(1670,-1.3),(1690,-0.8),(1710,-1.1),(1730,-0.6),(1750,-0.5),(1770,-1.0),(1790,-1.2),(1810,-0.9),
        (1830,-1.1),(1850,-1.3),(1880,-1.0),(1900,-0.8),(1930,-1.2),(1960,-1.4),(1990,-1.0),(2020,-0.8),(2050,-1.1),(2080,-0.9),
        (2110,-1.2),(2140,-1.0),(2170,-0.9),(2300,-1.1),(2330,-1.2),(2360,-0.7),(2380,-1.4),(2410,-1.1),(2440,-0.9),(2470,-1.2),
        (2520,-1.1),(2600,-0.3),(2580,-0.6)]

D_Pb = [(226,2.43),(165,2.37),(196,2.25),(226,1.88),(317,1.95),(408,1.95),(287,1.58),(348,1.7),(470,1.76),(226,1.27),
        (317,1.21),(257,0.66),(408,0.24),(500,0.18),(439,-0.68),(500,-0.8),(561,-1.23),(561,-1.78),(592,-0.92),(592,-1.29),
        (774,-1.1),(835,-1.23),(866,-1.29),(1006,1.3),(1018,-1.1),(1018,-1.53),(1292,-1.66),(1353,-1.05),(1475,-1.1),(1536,-2.75),
        (1627,-0.8),(2053,-0.5),(2053,-1.29),(2875,-0.74),(2875,0.6),(2906,0.36),(470,0.94),(652,1.21),(622,0.85),(774,1.33),
        (805,1.15),(744,0.54),(713,0.36),
        (310,0.2),(350,0.9),(380,0.5),(420,1.0),(450,0.1),(480,0.7),(510,1.2),(540,0.3),(570,0.9),(600,-0.3),
        (630,0.5),(660,1.1),(690,0.0),(720,0.6),(750,-0.4),(780,0.8),(810,0.2),(840,-0.2),(870,1.0),(900,0.4),
        (930,-0.5),(960,0.7),(990,0.1),(1020,0.9),(1050,-0.3),(1080,0.5),(1110,0.8),(1140,-0.1),(1170,0.6),(1200,0.3),
        (1230,1.0),(1260,-0.4),(1290,0.7),(1320,0.2),(1350,0.9),(1380,-0.2),(1410,0.4),(1440,0.8),(1470,0.0),(1500,0.6),
        (1530,-0.5),(1560,0.3),(1590,0.9),(1620,0.1),(1650,0.5),(1680,-0.3),(1710,0.7),(1740,0.2),(1770,0.4),(1800,-0.1),
        (1830,0.6),(1860,0.3),(1900,0.8),(1940,0.5),(1980,1.0),(2000,0.3),(2030,0.9),(2060,-0.2),(2080,0.6),(2100,0.2),
        (2130,0.8),(2300,0.7),(2330,0.4),(2360,0.9),(2390,0.6),(2420,0.2),(2450,0.8),(2480,0.5),(2510,0.3),(2550,0.7),
        (2580,0.5),(2610,0.2),(1100,0.3),(1300,-0.1),(1450,0.5),(1680,0.9),(1750,0.7),(1370,-0.6),(1560,-0.7),(2050,-0.6),
        (2070,-1.3),(1700,-0.4)]

D_Zn = [(340,2.7),(459,2.3),(448,2.04),(178,2.16),(275,2.12),(419,1.85),(484,1.51),(394,1.55),(340,1.37),(232,1.49),
        (178,1.33),(196,1.06),(304,1.06),(502,1.18),(232,0.54),(988,1.49),(1474,1.51),(2122,1.06),(2410,1.06),(2518,0.88),
        (2626,0.61),(2853,0.21),(2914,-1.01),(2885,-0.85),(2853,-2.48),(2554,-0.1),(2536,0.12),(412,0.33),(448,0.15),(484,-0.68),
        (556,-0.46),(574,-0.89),(664,-0.95),(657,-0.65),(736,-0.22),(754,-0.59),(862,-1.44),(898,-0.65),(934,-0.95),(945,-1.32),
        (1024,-1.26),(1060,-0.95),(1042,-0.83),(1096,-0.28),(1114,0.02),(1276,-1.01),(1330,-0.83),(1384,-0.71),(1456,-0.65),(1474,-0.89),
        (1564,-0.89),(1618,-0.95),(1636,-0.65),(1708,-0.32),(2032,-0.4),(2068,-0.65),(1888,-0.28),
        (600,0.7),(640,0.4),(680,0.9),(720,0.6),(760,0.3),(790,0.8),(820,1.0),(850,0.2),(880,0.6),(910,-0.1),
        (950,0.8),(980,0.4),(1010,1.0),(1040,0.6),(1070,0.2),(1100,0.9),(1130,0.5),(1160,0.8),(1190,0.3),(1220,1.0),
        (1250,0.6),(1280,0.1),(1310,0.8),(1340,0.4),(1370,-0.2),(1400,0.6),(1430,0.2),(1460,0.7),(1490,0.4),(1520,0.0),
        (1550,0.6),(1580,0.3),(1610,-0.1),(1640,0.5),(1670,0.2),(1700,0.4),(1730,-0.2),(1760,0.3),(1790,0.1),(1820,0.5),
        (1850,0.3),(1880,0.2),(1910,0.6),(1940,0.4),(1970,0.1),(2000,0.3),(2030,0.7),(2060,0.4),(2090,0.1),(2130,0.4),
        (2300,0.4),(2330,0.3),(2360,0.5),(2400,0.2),(2450,0.4),(2490,0.5)]

E_As = [(25,1.42),(448,0.49),(40,-0.03),(62,-0.15),(25,-0.25),(72,-0.2),(40,-1.13),(19,-1.53),(79,-0.7),(109,-1.0),
        (158,-0.55),(173,-0.74),(137,-1.74),(173,-1.92),(212,-1.5),(233,-1.19),(255,-0.94),(294,-0.15),(302,-0.6),(352,-0.3),
        (319,-0.94),(341,-1.31),(384,-1.53),(390,-2.2),(448,-1.84),(409,-1.16),(448,-0.94),(480,-0.27),(512,-0.21),(545,0.13),
        (566,0.03),(523,-0.76),(555,-1.19),(599,-1.31),(620,-1.68),(641,-0.7),(684,-0.64),(727,-0.55),(770,-0.64),(760,-1.52),
        (780,-1.86),(797,-2.23),(813,-1.19),(813,-0.33),(845,-0.7),(892,-1.53),(899,-2.1),(899,-0.82),(952,-0.94),(985,-1.07),
        (1017,-1.31),(1027,-1.55),(952,-0.33),(995,-0.33),(1017,-0.09),(1049,-0.33),(1059,-0.03),(1070,-0.52),(1092,-0.82),(1113,-0.58),
        (1124,0.34),(1135,-0.21),(1156,-0.39),(1178,0.4),(1199,-0.21),(1242,0.4),(1264,0.1),(1260,-0.3),(1306,1.13),(1317,0.46),
        (1324,0.18),(1350,-0.09),(1092,0.0),(1757,1.44),(1736,1.2),(1736,0.89),(1736,0.3),(1757,1.13),
        (200,-0.9),(260,-1.2),(370,-0.8),(430,-1.0),(500,-1.1),(580,-0.9),(650,-1.1),(700,-0.8),(740,-1.0),(860,-1.0),
        (930,-1.2),(1000,-0.8),(1060,-1.2)]

E_Pb = [(53,4.24),(79,4.14),(24,3.92),(97,3.75),(17,3.39),(68,3.29),(241,3.44),(97,2.92),(223,2.89),(17,2.59),
        (104,2.56),(133,2.68),(259,2.43),(277,2.17),(205,2.09),(151,1.97),(296,1.88),(314,1.7),(350,1.68),(487,1.92),
        (549,2.09),(495,1.64),(560,1.46),(784,1.83),(223,1.4),(314,1.21),(422,1.52),(379,0.91),(451,1.21),(531,1.21),
        (640,1.34),(730,1.46),(766,1.21),(712,1.15),(1037,1.21),(1146,1.27),(1254,1.15),(1725,1.34),(24,0.38),(42,0.11),
        (176,0.5),(234,0.6),(277,0.0),(162,-0.29),(343,-0.37),(440,-0.89),(513,-0.47),(144,-1.78),(813,-0.28),(1066,-0.47),
        (1066,-0.28),(1247,-0.52),(1743,-0.47),(1725,0.63),(1743,0.51),(1754,0.26),(1356,0.3),(1291,0.24),(893,0.24),
        (320,1.0),(360,0.5),(400,0.8),(440,0.3),(480,1.0),(520,0.6),(560,0.9),(600,0.4),(640,1.1),(680,0.7),
        (720,0.5),(760,0.9),(800,0.6),(840,0.3),(880,0.8),(920,1.0),(960,0.5),(1000,0.8),(1040,0.4),(1080,0.9),
        (1120,0.6),(1160,0.3),(1200,0.8),(1240,0.5),(1280,0.7),(1320,0.4),(1360,0.3),(460,0.1),(540,0.2),(700,0.9),
        (860,1.1),(1100,0.2),(1180,0.6),(1060,1.3),(620,1.4),(740,1.3),(980,1.1)]

E_Zn = [(397,2.62),(414,2.41),(429,2.29),(450,2.37),(240,2.08),(43,1.68),(58,1.32),(107,1.41),(214,1.62),(246,1.56),
        (289,1.52),(203,1.38),(21,1.04),(118,1.07),(139,0.98),(171,0.95),(199,0.62),(21,0.32),(289,0.28),(171,0.04),
        (178,-0.27),(21,-0.67),(43,-0.75),(43,-0.81),(139,-1.3),(229,-1.02),(268,-1.06),(278,-0.53),(332,-0.91),(429,-0.85),
        (440,-1.4),(482,-1.06),(547,-1.45),(594,-1.03),(590,-1.45),(440,1.47),(472,1.38),(479,1.22),(515,1.13),(487,0.91),
        (472,0.77),(494,0.49),(458,0.28),(522,0.34),(461,-0.33),(522,-0.36),(558,0.55),(558,1.0),(590,0.95),(601,0.26),
        (708,-0.51),(697,0.7),(751,0.39),(772,0.09),(794,0.28),(826,-0.33),(848,-0.16),(890,0.05),(944,0.04),(955,-0.69),
        (1019,-0.2),(1045,0.04),(1062,-0.08),(1094,-0.4),(1115,-0.26),(1158,-0.02),(1163,-0.47),(1126,-1.18),(1244,-1.24),(1309,-0.99),
        (1324,-0.45),(1352,0.22),(1266,-0.33),(1008,-1.02),(1094,-0.96),(1137,-1.18),(880,-1.24),(762,-0.75),(1738,0.38),(1749,0.45),
        (1745,0.06),(1727,0.22),(965,-0.33),(890,-0.58),(654,-0.33),(633,-0.08),(686,0.14),(611,-0.14),(354,0.04),(375,-0.33),
        (343,-0.12),(418,-0.39)]

# ---------------- fitted trend lines: y = a + b*exp(c*x) ----------------
fit_A = [(-1.39, 17.79, -0.0060), (-2.07, 15.81, -0.0063), (-0.014, 10.62, -0.0079)]
fit_B = [(-0.858, 3.217, -0.0003), (-1.24, 3.056, -0.0005), (-1.15, 2.170, -0.0009)]
fit_C = [(-0.417, 2.575, -0.0006), (-0.796, 2.594, -0.0018), (-0.726, 0.407, -0.001)]
fit_D = [(-1.16, 1.124, -0.0021), (0.151, 9.467, -0.0071), (-0.047, 5.123, -0.0049)]
fit_E = [(-1.118, 0.0342, 0.0024), (0.567, 2.446, -0.0046), (-0.623, 1.425, -0.0015)]

eq_A = ['y = -1.39 + 17.79e$^{\\mathrm{-0.0060x}}$', 'y = -2.07 + 15.81e$^{\\mathrm{-0.0063x}}$',
        'y = -0.014 + 10.62e$^{\\mathrm{-0.0079x}}$']
eq_B = ['y = -0.858+ 3.217e$^{\\mathrm{-0.0003x}}$', 'y = -1.24+ 3.056e$^{\\mathrm{-0.0005x}}$',
        'y = -1.15+ 2.170e$^{\\mathrm{-0.0009x}}$']
eq_C = ['y = -0.417+ 2.575e$^{\\mathrm{-0.0006x}}$', 'y = -0.796+ 2.594e$^{\\mathrm{-0.0018x}}$',
        'y = -0.726+ 0.407e$^{\\mathrm{-0.001x}}$']
eq_D = ['y = -1.613+ 1.186e$^{\\mathrm{-0.0021x}}$', 'y = -0.151+ 9.467e$^{\\mathrm{-0.0071x}}$',
        'y = -0.047+ 5.123e$^{\\mathrm{-0.0049x}}$']
eq_E = ['y = -1.118+ 0.0342e$^{\\mathrm{0.0024x}}$', 'y = 0.567+ 2.446e$^{\\mathrm{-0.0046x}}$',
        'y = -0.623+ 1.425e$^{\\mathrm{-0.0015x}}$']

r_A = ['0.400', '0.482', '0.574']
r_B = ['0.627', '0.641', '0.679']
r_C = ['0.404', '0.622', '0.287']
r_D = ['0.380', '0.515', '0.513']
r_E = ['0.544', '0.526', '0.364']
n_samples = {'A': 781, 'B': 822, 'C': 374, 'D': 232, 'E': 162}

elements = ['As', 'Pb', 'Zn']
sub_letters = ['a', 'b', 'c']

# ---------------- styling ----------------
RED = '#ef6470'
RED_DARK = '#c24a5e'
BLUE = '#aadbf2'
GREY = '#dedede'
PT_FACE = '#c6c6c6'
PT_EDGE = '#2b2b2b'

W, H = 1325, 1724
fig = plt.figure(figsize=(W / 100, H / 100), dpi=100)


def add_axes(left, top, w=342, h=245):
    return fig.add_axes([left / W, 1 - (top + h) / H, w / W, h / H])


groups = {
    'A': dict(pts=[A_As + A_As_core, A_Pb + A_Pb_core, A_Zn + A_Zn_core], fit=fit_A, eq=eq_A, r=r_A,
              ylim=(-8, 10), xlim=(-200, 3500), xmaj=1000, xmin=200, edge=1000, cols=70, tops=[19, 292, 565],
              red=[True, True, True], vline=[True, True, True],
              leg=[(0.42, 0.962), (0.42, 0.854), (0.393, 0.857)],
              hot=[(0.2, None, 0.969, 0.921), (0.148, 0.932, 0.871, 0.823), (0.162, 0.925, 0.871, 0.817)],
              ell=((1980, 3.13, 1980, 3.42), (2194, 3.77, 2.8))),
    'B': dict(pts=[B_As + B_As_core, B_Pb + B_Pb_core, B_Zn + B_Zn_core], fit=fit_B, eq=eq_B, r=r_B,
              ylim=(-3, 6), xlim=(-200, 3500), xmaj=1000, xmin=200, edge=1000, cols=510, tops=[19, 292, 565],
              red=[True, True, True], vline=[True, True, True],
              leg=[(0.42, 0.958), (0.42, 0.866), (0.42, 0.868)],
              hot=[(0.156, None, 0.876, 0.829), (0.11, 0.864, 0.807, 0.753), (0.107, 0.868, 0.811, 0.757)],
              ell=((1994, 2.86, 2010, 1.74), (1978, 3.09, 2.66))),
    'C': dict(pts=[C_As + C_As_core, C_Pb, C_Zn], fit=fit_C, eq=eq_C, r=r_C,
              ylim=(-3, 8), xlim=(-200, 3500), xmaj=1000, xmin=200, edge=1000, cols=952, tops=[19, 292, 565],
              red=[True, True, False], vline=[True, True, False],
              leg=[(0.376, 0.951), (0.38, 0.844), (0.12, 0.848)],
              hot=[(0.188, None, 0.894, 0.846), (0.152, 0.814, 0.76, 0.708), None],
              ell=((2011, 3.43, 2184, 3.33), (1677, 3.68, 3.15))),
    'D': dict(pts=[D_As, D_Pb, D_Zn], fit=fit_D, eq=eq_D, r=r_D,
              ylim=(-3, 6), xlim=(-200, 3500), xmaj=1000, xmin=200, edge=1000, cols=67, tops=[884, 1157, 1430],
              red=[False, True, True], vline=[False, True, True],
              leg=[(0.17, 0.863), (0.408, 0.878), (0.39, 0.878)],
              hot=[None, (0.194, 0.824, 0.773, 0.719), (0.168, 0.824, 0.77, 0.718)],
              ell=None),
    'E': dict(pts=[E_As, E_Pb, E_Zn], fit=fit_E, eq=eq_E, r=r_E,
              ylim=(-3, 6), xlim=(-200, 2000), xmaj=500, xmin=100, edge=500, cols=509, tops=[884, 1157, 1430],
              red=[False, True, True], vline=[False, True, True],
              leg=[(0.40, 0.871), (0.40, 0.886), (0.403, 0.888)],
              hot=[None, (0.209, 0.929, 0.878, 0.824), (0.154, 0.845, 0.786, 0.743)],
              ell=None),
}

big_letter_pos = {'A': (22, 24), 'B': (467, 24), 'C': (906, 24), 'D': (24, 889), 'E': (467, 889)}

dash = (0, (3, 2))
igeo = r'I$_{\mathbf{geo}}$'

for g, cfg in groups.items():
    x0, x1 = cfg['xlim']
    y0, y1 = cfg['ylim']
    edge = cfg['edge']
    for k in range(3):
        ax = add_axes(cfg['cols'], cfg['tops'][k])
        # background zones
        ax.add_patch(Rectangle((x0, y0), x1 - x0, -y0, facecolor=BLUE, edgecolor='none', zorder=0))
        ax.add_patch(Rectangle((x0, 1), x1 - x0, 1, facecolor=GREY, edgecolor='none', zorder=0))
        if cfg['red'][k]:
            ax.add_patch(Rectangle((x0, 2), edge - x0, y1 - 2, facecolor=RED, edgecolor='none', zorder=0))
        for yl in (0, 1, 2):
            ax.axhline(yl, color='#444444', lw=0.9, ls=dash, zorder=1)
        if cfg['vline'][k]:
            ax.plot([edge, edge], [y0, 2], color='#444444', lw=0.9, ls=dash, zorder=1)
            ax.plot([edge, edge], [2, y1], color='#777777', lw=0.9, ls=dash, zorder=1)

        # ellipse zones
        if k == 0 and cfg['ell'] is not None:
            (cx, cy, ew, eh), (tx, ty1, ty2) = cfg['ell']
            ax.add_patch(Ellipse((cx, cy), ew, eh, facecolor=RED, edgecolor='#222222', lw=0.9,
                                 ls=(0, (3, 1.5)), zorder=1.5))
            ax.text(tx, ty1, igeo + ' > 2', color='white', fontsize=7.8, fontweight='bold',
                    ha='center', va='center', zorder=6)
            ax.text(tx, ty2, '> 1000 m', color='white', fontsize=7.8, fontweight='bold',
                    ha='center', va='center', zorder=6)
        if g == 'E' and k == 0:
            tr = fig.dpi_scale_trans + mtransforms.ScaledTranslation(1356, -0.05, ax.transData)
            ax.add_patch(Ellipse((0, 0), 1.81, 0.72, angle=29, facecolor=RED, edgecolor='#222222',
                                 lw=0.9, ls=(0, (3, 1.5)), transform=tr, zorder=1.5))
            low = Ellipse((0, 0), 1.81, 0.72, angle=29, facecolor=RED_DARK, edgecolor='none',
                          transform=tr, zorder=1.6)
            ax.add_patch(low)
            clip = Rectangle((x0, y0), x1 - x0, -y0, transform=ax.transData, facecolor='none', edgecolor='none')
            ax.add_patch(clip)
            low.set_clip_path(clip)
            ax.text(1450, 0.5, 'zone of\nincreasing\nAs level', color='white', fontsize=8.5,
                    ha='center', va='center', rotation=38, linespacing=1.0, zorder=6)

        # scatter points
        pts = np.array(cfg['pts'][k])
        ax.scatter(pts[:, 0], pts[:, 1], s=46, facecolor=PT_FACE, edgecolor=PT_EDGE,
                   linewidths=0.7, zorder=3)

        # trend line
        a, b, c = cfg['fit'][k]
        xx = np.linspace(x0, x1, 500)
        ax.plot(xx, a + b * np.exp(c * xx), color='black', lw=1.0, zorder=4)

        # legend-like text block
        lx, ly = cfg['leg'][k]
        ax.plot([lx, lx + 0.095], [ly, ly], color='#222222', lw=1.0, transform=ax.transAxes, zorder=6)
        ax.plot([lx + 0.0475], [ly], 'o', ms=7, mfc=PT_FACE, mec=PT_EDGE, mew=0.7,
                transform=ax.transAxes, zorder=7)
        ax.text(lx + 0.103, ly, 'Trend line', fontsize=8.8, va='center', transform=ax.transAxes, zorder=6)
        ax.text(lx, ly - 0.06, cfg['eq'][k], fontsize=8.8, va='center', transform=ax.transAxes, zorder=6)
        ax.text(lx, ly - 0.12, 'r = ' + cfg['r'][k], fontsize=8.8, va='center', transform=ax.transAxes, zorder=6)
        ax.text(lx, ly - 0.18, 'n = %d' % n_samples[g], fontsize=8.8, va='center',
                transform=ax.transAxes, zorder=6)

        # hot spot label
        hs = cfg['hot'][k]
        if hs is not None:
            hx, ht, h1, h2 = hs
            if ht is not None:
                ax.text(hx, ht, 'Hot spot', color='white', fontsize=9.8, ha='center', va='center',
                        transform=ax.transAxes, zorder=6)
            ax.text(hx, h1, igeo + ' > 2', color='white', fontsize=7.8, fontweight='bold',
                    ha='center', va='center', transform=ax.transAxes, zorder=6)
            ax.text(hx, h2, '≤ 1000 m', color='white', fontsize=7.8, fontweight='bold',
                    ha='center', va='center', transform=ax.transAxes, zorder=6)

        # Igeo class labels
        if g == 'E' and k == 0:
            for txt, yv in [(' > 2', 2.17), (' > 1', 1.28), (' > 0', 0.25), (' ≤ 0', -2.47)]:
                ax.text(0.203, yv, igeo + txt, fontsize=6.5, fontweight='bold', ha='center', va='center',
                        transform=ax.get_yaxis_transform(), zorder=6)
        else:
            for txt, yv, off in [(' > 2', 2, 4), (' > 1', 1, 4), (' > 0', 0, 4), (' ≤ 0', 0, -6)]:
                ax.annotate(igeo + txt, xy=(0.988, yv), xycoords=('axes fraction', 'data'),
                            xytext=(0, off), textcoords='offset points', fontsize=6.5,
                            fontweight='bold', ha='right', va='center', zorder=6)

        # sub-panel letter
        ax.text(0.975, 0.975, sub_letters[k], fontsize=21, ha='right', va='top', transform=ax.transAxes, zorder=6)

        # axes formatting
        ax.set_xlim(x0, x1)
        ax.set_ylim(y0, y1)
        ax.xaxis.set_major_locator(MultipleLocator(cfg['xmaj']))
        ax.xaxis.set_minor_locator(MultipleLocator(cfg['xmin']))
        ax.yaxis.set_major_locator(MultipleLocator(2))
        ax.yaxis.set_minor_locator(MultipleLocator(1))
        ax.set_xticks(np.arange(0, x1 + 1, cfg['xmaj']))
        ax.tick_params(which='both', direction='in', top=False, right=False)
        ax.tick_params(which='major', length=4, width=0.9, labelsize=10.5)
        ax.tick_params(which='minor', length=2.5, width=0.8)
        ax.tick_params(axis='x', pad=6)
        ax.tick_params(axis='y', pad=4)
        for sp in ax.spines.values():
            sp.set_linewidth(1.2)
        ax.set_ylabel(elements[k] + r' (I$_{\mathrm{geo}}$)', fontsize=11.5)
        ax.yaxis.set_label_coords(-0.13, 0.5)
        if k == 2:
            ax.set_xlabel('Distance (m)', fontsize=11.5, labelpad=3)

    bx, by = big_letter_pos[g]
    fig.text(bx / W, 1 - by / H, g, fontsize=22, ha='center', va='center')

# dotted separators between the groups
sep = dict(color='#333333', lw=1.2, ls=(0, (1, 1.6)))
fig.add_artist(Line2D([0, 1], [1 - 860 / H, 1 - 860 / H], transform=fig.transFigure, **sep))
fig.add_artist(Line2D([434 / W, 434 / W], [1, 1 - 860 / H], transform=fig.transFigure, **sep))
fig.add_artist(Line2D([876 / W, 876 / W], [1, 1 - 860 / H], transform=fig.transFigure, **sep))
fig.add_artist(Line2D([436 / W, 436 / W], [1 - 860 / H, 0], transform=fig.transFigure, **sep))
fig.add_artist(Line2D([872 / W, 872 / W], [1 - 860 / H, 0], transform=fig.transFigure, **sep))

fig.savefig('out.png', dpi=100, facecolor='white')
